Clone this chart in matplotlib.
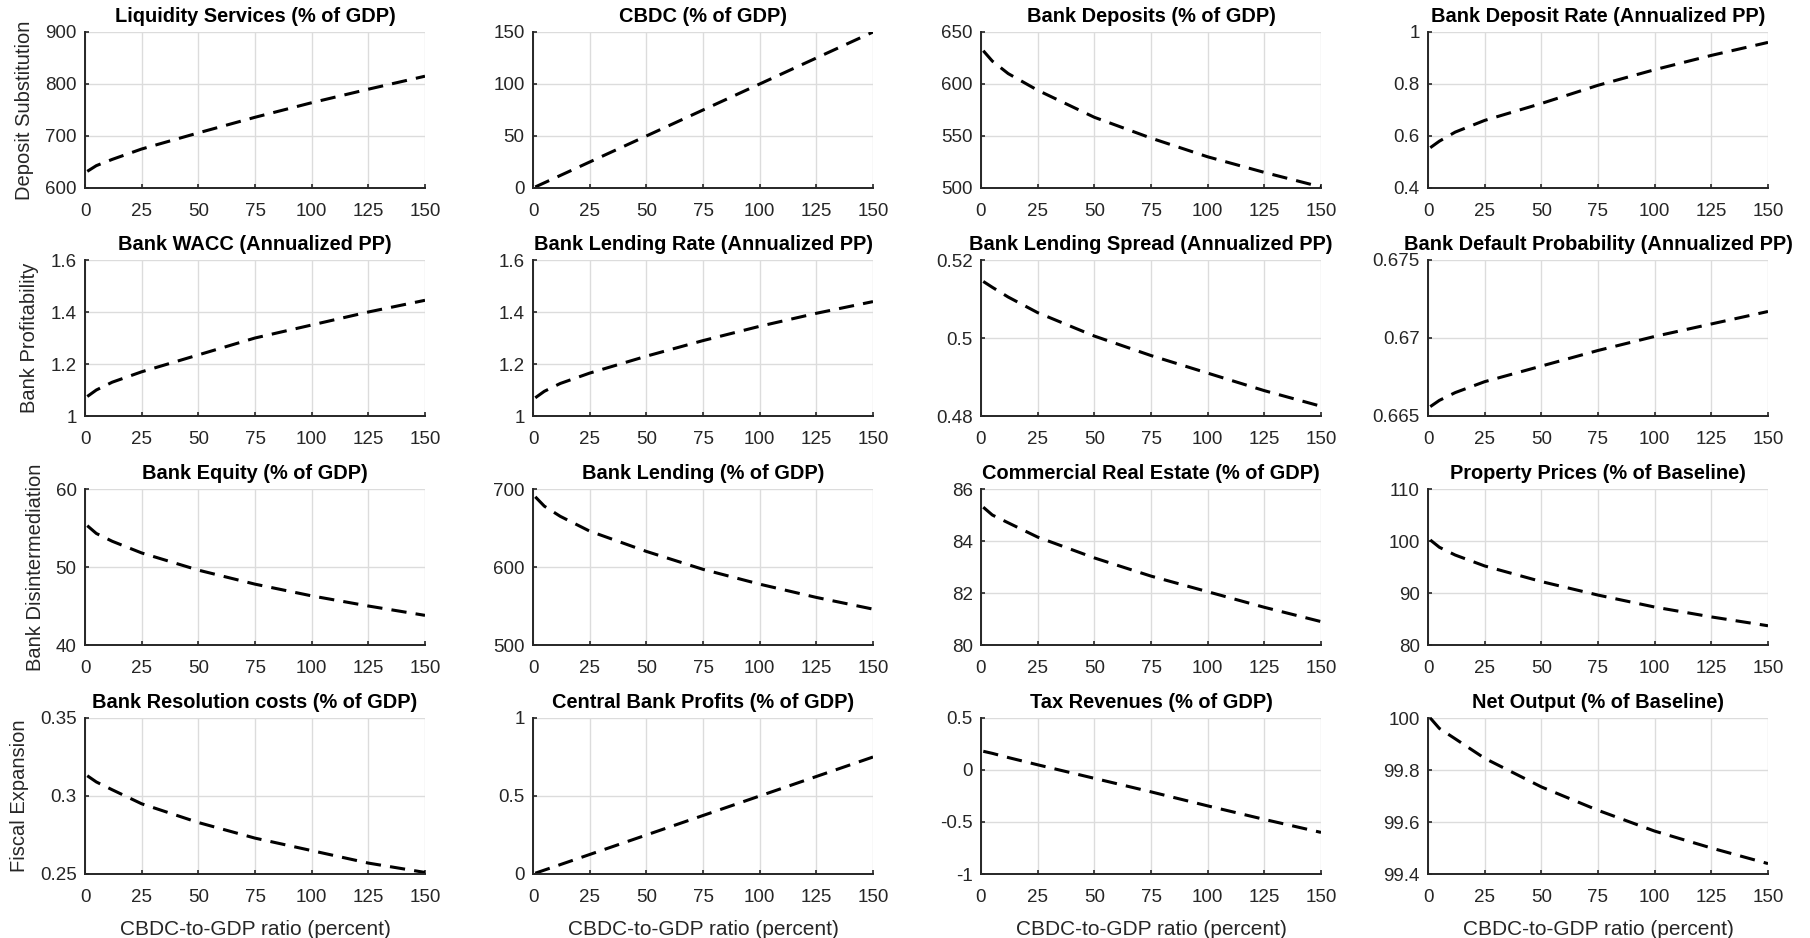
import numpy as np
import matplotlib
matplotlib.use('Agg')
import matplotlib.pyplot as plt
from matplotlib.ticker import FuncFormatter

plt.rcParams['font.family'] = ['Liberation Sans', 'DejaVu Sans']

# CBDC-to-GDP ratio (percent)
cbdc_ratio = [1, 5, 12, 25, 50, 75, 100, 125, 150]

# values
liquidity_services = [632, 643, 655, 675, 706, 736, 764, 790, 815]
cbdc = [1, 5, 12, 25, 50, 75, 100, 125, 150]
bank_deposits = [632, 622, 610, 594, 568, 548, 530, 515, 501]
deposit_rate = [0.555, 0.58, 0.615, 0.66, 0.725, 0.795, 0.855, 0.91, 0.96]
bank_wacc = [1.075, 1.10, 1.13, 1.17, 1.235, 1.30, 1.35, 1.40, 1.445]
lending_rate = [1.07, 1.095, 1.125, 1.165, 1.23, 1.29, 1.345, 1.395, 1.44]
lending_spread = [0.5145, 0.513, 0.5105, 0.5065, 0.5005, 0.4955, 0.491, 0.4865, 0.4825]
default_prob = [0.6656, 0.666, 0.6665, 0.6672, 0.6682, 0.6692, 0.6701, 0.6709, 0.6717]
bank_equity = [55.3, 54.3, 53.3, 51.8, 49.6, 47.8, 46.3, 45.0, 43.8]
bank_lending = [690, 678, 665, 646, 620, 597, 578, 561, 546]
commercial_re = [85.3, 85.0, 84.7, 84.15, 83.35, 82.65, 82.05, 81.45, 80.9]
property_prices = [100.2, 98.8, 97.3, 95.2, 92.2, 89.6, 87.3, 85.4, 83.7]
resolution_costs = [0.313, 0.309, 0.304, 0.295, 0.283, 0.273, 0.265, 0.257, 0.251]
cb_profits = [0.005, 0.025, 0.06, 0.125, 0.25, 0.375, 0.5, 0.625, 0.75]
tax_revenues = [0.18, 0.16, 0.12, 0.05, -0.08, -0.21, -0.345, -0.475, -0.6]
net_output = [100.0, 99.96, 99.92, 99.845, 99.735, 99.645, 99.565, 99.50, 99.44]

titles = ['Liquidity Services (% of GDP)', 'CBDC (% of GDP)',
          'Bank Deposits (% of GDP)', 'Bank Deposit Rate (Annualized PP)',
          'Bank WACC (Annualized PP)', 'Bank Lending Rate (Annualized PP)',
          'Bank Lending Spread (Annualized PP)', 'Bank Default Probability (Annualized PP)',
          'Bank Equity (% of GDP)', 'Bank Lending (% of GDP)',
          'Commercial Real Estate (% of GDP)', 'Property Prices (% of Baseline)',
          'Bank Resolution costs (% of GDP)', 'Central Bank Profits (% of GDP)',
          'Tax Revenues (% of GDP)', 'Net Output (% of Baseline)']
series = [liquidity_services, cbdc, bank_deposits, deposit_rate,
          bank_wacc, lending_rate, lending_spread, default_prob,
          bank_equity, bank_lending, commercial_re, property_prices,
          resolution_costs, cb_profits, tax_revenues, net_output]
yticks = [[600, 700, 800, 900], [0, 50, 100, 150], [500, 550, 600, 650], [0.4, 0.6, 0.8, 1],
          [1, 1.2, 1.4, 1.6], [1, 1.2, 1.4, 1.6], [0.48, 0.5, 0.52], [0.665, 0.67, 0.675],
          [40, 50, 60], [500, 600, 700], [80, 82, 84, 86], [80, 90, 100, 110],
          [0.25, 0.3, 0.35], [0, 0.5, 1], [-1, -0.5, 0, 0.5], [99.4, 99.6, 99.8, 100]]
row_labels = ['Deposit Substitution', 'Bank Profitability',
              'Bank Disintermediation', 'Fiscal Expansion']
xticks = [0, 25, 50, 75, 100, 125, 150]

W, H = 1810, 938
lefts = [85, 533, 981, 1428]
tops = [32, 260, 489, 718]
aw, ah = 340, 156

fig = plt.figure(figsize=(W / 100, H / 100), dpi=100)
fmt = FuncFormatter(lambda v, p: '%g' % round(v, 6))

for i in range(16):
    r, c = i // 4, i % 4
    ax = fig.add_axes([lefts[c] / W, 1 - (tops[r] + ah) / H, aw / W, ah / H])
    ax.plot(cbdc_ratio, series[i], color='black', lw=2.2, linestyle=(0, (5, 3)))
    ax.set_xlim(0, 150)
    ax.set_ylim(yticks[i][0], yticks[i][-1])
    ax.set_xticks(xticks)
    ax.set_yticks(yticks[i])
    ax.yaxis.set_major_formatter(fmt)
    ax.grid(True, color='#dcdcdc', lw=1.0)
    ax.set_axisbelow(True)
    for s in ['top', 'right']:
        ax.spines[s].set_visible(False)
    for s in ['left', 'bottom']:
        ax.spines[s].set_color('#262626')
        ax.spines[s].set_linewidth(1.4)
    ax.tick_params(direction='in', length=3, width=1.2, color='#262626',
                   labelsize=13.5, labelcolor='#262626')
    ax.tick_params(axis='x', pad=11)
    ax.tick_params(axis='y', pad=6)
    ax.set_title(titles[i], fontsize=14.4, fontweight='bold', pad=7)
    if c == 0:
        ax.set_ylabel(row_labels[r], fontsize=14.5, color='#262626', labelpad=8)
    if r == 3:
        ax.set_xlabel('CBDC-to-GDP ratio (percent)', fontsize=15, color='#262626', labelpad=10)

plt.savefig('out.png', dpi=100)
